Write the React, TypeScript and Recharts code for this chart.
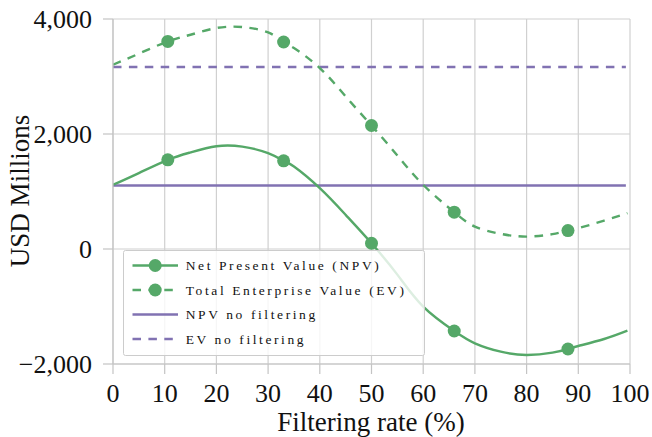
import React from 'react';
import {
  CartesianGrid,
  ComposedChart,
  Legend,
  Line,
  Scatter,
  XAxis,
  YAxis,
} from 'recharts';

// filtering rates where the sampled runs sit (markers)
const markerRates = [10.6, 33, 50, 66, 88];
const npvMarkers = [1551, 1533, 100, -1426, -1739];
const evMarkers = [3610, 3600, 2148, 640, 320];

// fitted curves
const curveRates = [
  0, 5, 10.6, 15, 20, 25, 30, 33, 35, 40, 45, 50, 55, 60, 66, 70, 75, 80, 85, 88,
  90, 95, 99.5,
];
const npvCurve = [
  1116, 1321, 1551, 1680, 1786, 1780, 1667, 1533, 1434, 1058, 594, 100, -446,
  -1002, -1426, -1640, -1786, -1843, -1803, -1739, -1687, -1565, -1420,
];
const evCurve = [
  3205, 3397, 3610, 3726, 3843, 3860, 3767, 3600, 3495, 3147, 2653, 2148, 1626,
  1116, 640, 390, 263, 216, 258, 320, 362, 494, 623,
];

// baselines without filtering
const baseRates = [0, 99.2];
const npvNoFilter = 1104;
const evNoFilter = 3165;

const xTicks = [0, 10, 20, 30, 40, 50, 60, 70, 80, 90, 100];
const yTicks = [-2000, 0, 2000, 4000];

const legendLabels = [
  'Net Present Value (NPV)',
  'Total Enterprise Value (EV)',
  'NPV no filtering',
  'EV no filtering',
];

const GREEN = '#55a868';
const PURPLE = '#8172b2';
const FONT = 'Tinos';

const toPoints = (xs: number[], ys: number[]) =>
  xs.map((x, i) => ({ x, y: ys[i] }));

const npvLine = toPoints(curveRates, npvCurve);
const evLine = toPoints(curveRates, evCurve);
const npvPts = toPoints(markerRates, npvMarkers);
const evPts = toPoints(markerRates, evMarkers);
const npvBase = baseRates.map((x) => ({ x, y: npvNoFilter }));
const evBase = baseRates.map((x) => ({ x, y: evNoFilter }));

const fmtY = (v: number) =>
  v < 0
    ? '\u2212' + Math.abs(v).toLocaleString('en-US')
    : v.toLocaleString('en-US');

const Dot = (color: string) => (props: any) =>
  <circle cx={props.cx} cy={props.cy} r={6.5} fill={color} />;

const CustomLegend: React.FC = () => {
  const rows = [
    { color: GREEN, dash: undefined, marker: true },
    { color: GREEN, dash: '8.5 7.4', marker: true },
    { color: PURPLE, dash: undefined, marker: false },
    { color: PURPLE, dash: '8.5 7.4', marker: false },
  ];
  return (
    <svg width={302} height={106} style={{ display: 'block' }}>
      <rect
        x={0.5}
        y={0.5}
        width={301}
        height={105}
        rx={2}
        fill="#ffffff"
        fillOpacity={0.8}
        stroke="#cccccc"
      />
      {rows.map((r, i) => {
        const y = 15.5 + i * 24.5;
        return (
          <g key={`item-${i}`}>
            <line
              x1={9.5}
              x2={55}
              y1={y}
              y2={y}
              stroke={r.color}
              strokeWidth={2.4}
              strokeDasharray={r.dash}
            />
            {r.marker && <circle cx={32.2} cy={y} r={6.5} fill={r.color} />}
            <text
              x={62.7}
              y={y + 4.6}
              fontFamily={FONT}
              fontSize={13.5}
              letterSpacing={2.6}
              fill="#111"
            >
              {legendLabels[i]}
            </text>
          </g>
        );
      })}
    </svg>
  );
};

const App: React.FC = () => {
  return (
    <div style={{ position: 'absolute', left: 0, top: 0, background: '#fff' }}>
      <ComposedChart
        width={652}
        height={437}
        margin={{ top: 19, right: 22, bottom: 0, left: 0 }}
      >
        <CartesianGrid stroke="#d0d0d0" strokeWidth={1.2} />
        <XAxis
          type="number"
          dataKey="x"
          domain={[0, 100]}
          ticks={xTicks}
          height={73}
          tickSize={10}
          tickMargin={10}
          stroke="#c4c4c4"
          strokeWidth={1.2}
          tick={{ fill: '#111', fontSize: 26, fontFamily: FONT }}
          allowDataOverflow
          label={() => (
            <text
              x={371}
              y={431}
              textAnchor="middle"
              fontFamily={FONT}
              fontSize={27}
              fill="#111"
            >
              Filtering rate (%)
            </text>
          )}
        />
        <YAxis
          type="number"
          domain={[-2000, 4000]}
          ticks={yTicks}
          width={113}
          tickSize={10}
          tickMargin={11}
          stroke="#c4c4c4"
          strokeWidth={1.2}
          tickFormatter={fmtY}
          tick={{ fill: '#111', fontSize: 26, fontFamily: FONT }}
          allowDataOverflow
          label={() => (
            <text
              x={29}
              y={191}
              transform="rotate(-90 29 191)"
              textAnchor="middle"
              fontFamily={FONT}
              fontSize={27}
              fill="#111"
            >
              USD Millions
            </text>
          )}
        />
        <Line
          data={npvBase}
          dataKey="y"
          stroke={PURPLE}
          strokeWidth={2.4}
          dot={false}
          isAnimationActive={false}
        />
        <Line
          data={evBase}
          dataKey="y"
          stroke={PURPLE}
          strokeWidth={2.4}
          strokeDasharray="8.5 7.4"
          dot={false}
          isAnimationActive={false}
        />
        <Line
          data={npvLine}
          dataKey="y"
          type="natural"
          stroke={GREEN}
          strokeWidth={2.4}
          dot={false}
          isAnimationActive={false}
        />
        <Line
          data={evLine}
          dataKey="y"
          type="natural"
          stroke={GREEN}
          strokeWidth={2.4}
          strokeDasharray="8.5 7.4"
          dot={false}
          isAnimationActive={false}
        />
        <Scatter
          data={npvPts}
          dataKey="y"
          shape={Dot(GREEN)}
          isAnimationActive={false}
        />
        <Scatter
          data={evPts}
          dataKey="y"
          shape={Dot(GREEN)}
          isAnimationActive={false}
        />
        <Legend
          layout="horizontal"
          verticalAlign="middle"
          align="center"
          content={<CustomLegend />}
          wrapperStyle={{ left: 123, top: 250, width: 302, height: 106 }}
        />
      </ComposedChart>
    </div>
  );
};

export default App;
